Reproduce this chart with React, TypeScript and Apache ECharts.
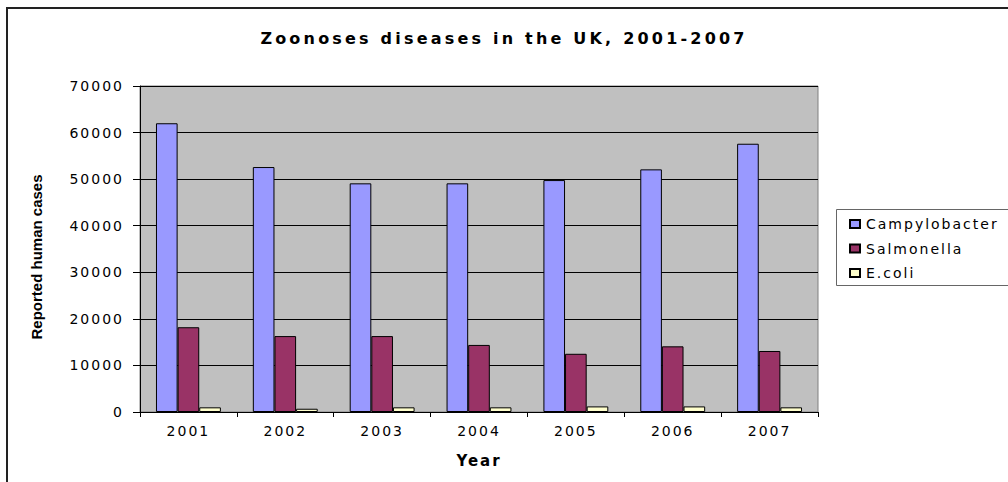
import React, { useEffect, useRef } from "react";
import * as echarts from "echarts";

const years = ["2001", "2002", "2003", "2004", "2005", "2006", "2007"];
const campylobacter = [62000, 52600, 49100, 49100, 49800, 52100, 57600];
const salmonella = [18200, 16300, 16300, 14400, 12500, 14100, 13100];
const ecoli = [1000, 700, 1000, 1000, 1200, 1200, 1000];
const seriesNames = ["Campylobacter", "Salmonella", "E.coli"];
const seriesColors = ["#9999FF", "#993366", "#FFFFCC"];

const FONT = "DejaVu Sans";

export default function App() {
  const ref = useRef<HTMLDivElement>(null);
  useEffect(() => {
    if (!ref.current) return;
    const chart = echarts.init(ref.current, undefined, { renderer: "svg" });
    const data = [campylobacter, salmonella, ecoli];
    chart.setOption({
      animation: false,
      backgroundColor: "#ffffff",
      title: {
        text: "Zoonoses diseases in the UK, 2001-2007",
        left: "center",
        top: 25,
        textStyle: { fontFamily: "DejaVu Sans, Verdana", fontWeight: "bold", fontSize: 16, color: "#000" },
      },
      legend: {
        orient: "vertical",
        left: 849,
        top: 217,
        itemWidth: 10,
        itemHeight: 8,
        itemGap: 10.5,
        padding: 0,
        icon: "rect",
        textStyle: { fontFamily: FONT, fontSize: 14, color: "#000", padding: [0, 0, 0, 1] },
        data: seriesNames,
      },
      graphic: [
        {
          type: "rect",
          shape: { x: 7, y: 8, width: 1100, height: 600 },
          style: { fill: "none", stroke: "#222", lineWidth: 2 },
          silent: true,
        },
        {
          type: "rect",
          shape: { x: 836.5, y: 209.5, width: 300, height: 76 },
          style: { fill: "#fff", stroke: "#666", lineWidth: 1 },
          silent: true,
          z: -1,
        },
      ],
      grid: {
        left: 140,
        right: 190,
        top: 86,
        bottom: 70,
        show: true,
        backgroundColor: "#C0C0C0",
        borderColor: "#808080",
        borderWidth: 1,
      },
      xAxis: {
        type: "category",
        data: years,
        name: "Year",
        nameLocation: "middle",
        nameGap: 41,
        nameTextStyle: { fontFamily: "DejaVu Sans", fontWeight: "bold", fontSize: 15, color: "#000" },
        axisLine: { lineStyle: { color: "#000", width: 1 } },
        axisTick: { show: true, length: 5, lineStyle: { color: "#000" } },
        axisLabel: { fontFamily: FONT, fontSize: 14, color: "#000", margin: 12 },
      },
      yAxis: {
        type: "value",
        min: 0,
        max: 70000,
        interval: 10000,
        name: "Reported human cases",
        nameLocation: "middle",
        nameGap: 96,
        nameTextStyle: {
          fontFamily: "Arimo, Liberation Sans",
          fontWeight: "bold",
          fontSize: 15,
          color: "#000",
          padding: [0, 16, 0, 0],
        },
        axisLine: { show: true, lineStyle: { color: "#000", width: 1 } },
        axisTick: { show: true, length: 7, lineStyle: { color: "#000" } },
        axisLabel: {
          fontFamily: FONT,
          fontSize: 14,
          color: "#000",
          margin: 16,
          formatter: (v: number) => String(v),
        },
        splitLine: { show: true, lineStyle: { color: "#000", width: 1 } },
      },
      series: seriesNames.map((name, i) => ({
        name,
        type: "bar",
        data: data[i],
        barGap: "0%",
        barCategoryGap: "33%",
        itemStyle: { color: seriesColors[i], borderColor: "#000", borderWidth: 1 },
      })),
    });
    return () => chart.dispose();
  }, []);
  return (
    <>
      <style>{`
        .zchart svg text { letter-spacing: 2px; }
        .zchart svg text[style*="Verdana"] { letter-spacing: 3.2px; }
        .zchart svg text[style*="Arimo"] { letter-spacing: 0px; }
      `}</style>
      <div
        ref={ref}
        className="zchart"
        style={{ position: "fixed", left: 0, top: 0, width: 1008, height: 482, background: "#fff" }}
      />
    </>
  );
}
